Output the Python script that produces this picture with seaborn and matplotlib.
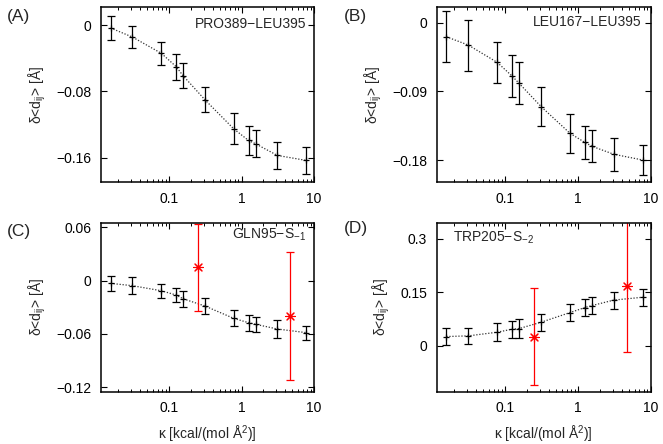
import numpy as np
import pandas as pd
import matplotlib
matplotlib.use('Agg')
import matplotlib.pyplot as plt
import matplotlib.ticker as mticker
import seaborn as sns

# kappa values (same for all panels)
kappa = [0.0156, 0.03125, 0.078, 0.125, 0.156, 0.3125, 0.78, 1.25, 1.5625, 3.125, 7.8]

# (A) PRO389-LEU395
a_val = [-0.0036, -0.0145, -0.034, -0.050, -0.061, -0.090, -0.125, -0.139, -0.143, -0.157, -0.163]
a_err = [0.0149, 0.013, 0.0139, 0.0157, 0.015, 0.015, 0.0187, 0.0173, 0.0165, 0.0165, 0.0165]

# (B) LEU167-LEU395
b_val = [-0.0184, -0.0293, -0.052, -0.070, -0.0795, -0.110, -0.145, -0.157, -0.162, -0.1725, -0.180]
b_err = [0.0334, 0.0334, 0.027, 0.028, 0.0275, 0.0253, 0.0253, 0.0216, 0.021, 0.022, 0.020]

# (C) GLN95-S_-1
c_val = [-0.003, -0.0056, -0.0113, -0.0161, -0.0203, -0.0285, -0.0424, -0.0473, -0.0491, -0.0544, -0.0585]
c_err = [0.0086, 0.0096, 0.0077, 0.0083, 0.0088, 0.0092, 0.009, 0.009, 0.0086, 0.0098, 0.0079]
c_red_x = [0.25, 4.7]
c_red_val = [0.015, -0.0398]
c_red_err = [0.0488, 0.072]

# (D) TRP205-S_-2
d_val = [0.0253, 0.0272, 0.0375, 0.046, 0.0478, 0.0656, 0.0928, 0.107, 0.1125, 0.128, 0.136]
d_err = [0.0248, 0.0234, 0.0253, 0.0234, 0.0258, 0.0239, 0.0234, 0.023, 0.0248, 0.0239, 0.0244]
d_red_x = [0.25, 4.7]
d_red_val = [0.025, 0.167]
d_red_err = [0.137, 0.184]

x_ticks = [0.1, 1, 10]
x_ticklabels = ['0.1', '1', '10']

sns.set_theme(style='ticks')
plt.rcParams['font.family'] = ['Liberation Sans', 'DejaVu Sans']
plt.rcParams['mathtext.fontset'] = 'custom'
plt.rcParams['mathtext.rm'] = 'Liberation Sans'
plt.rcParams['mathtext.it'] = 'Liberation Sans'
plt.rcParams['axes.unicode_minus'] = True

W, H = 663, 444
fig = plt.figure(figsize=(W / 100, H / 100), dpi=100)


def panel(rect, vals, errs, ylim, yticks, yticklabels, name, name_pos, letter, letter_pos,
          red_x=None, red_val=None, red_err=None, xlabel=False, name_ha='right'):
    l, t, r, b = rect
    ax = fig.add_axes([l / W, 1 - b / H, (r - l) / W, (b - t) / H])
    df = pd.DataFrame({'kappa': kappa, 'val': vals})
    sns.lineplot(data=df, x='kappa', y='val', ax=ax, color='#333333',
                 linestyle=(0, (1, 1.4)), linewidth=0.9, marker='+', markersize=5,
                 markeredgecolor='black', markeredgewidth=0.9)
    ax.errorbar(kappa, vals, yerr=errs, fmt='none', ecolor='black',
                elinewidth=0.9, capsize=2.6, capthick=0.9)
    if red_x is not None:
        ax.errorbar(red_x, red_val, yerr=red_err, fmt='none', ecolor='red',
                    elinewidth=0.9, capsize=2.6, capthick=0.9)
        sns.scatterplot(x=red_x, y=red_val, ax=ax, marker=(8, 2, 0), s=50,
                        color='red', edgecolor='red', linewidth=0.8)
    ax.set_xscale('log')
    ax.set_xlim(0.0115, 10)
    ax.set_ylim(*ylim)
    ax.xaxis.set_major_locator(mticker.FixedLocator(x_ticks))
    ax.set_xticklabels(x_ticklabels)
    ax.xaxis.set_minor_locator(mticker.LogLocator(base=10, subs=np.arange(2, 10), numticks=20))
    ax.xaxis.set_minor_formatter(mticker.NullFormatter())
    ax.set_yticks(yticks)
    ax.set_yticklabels(yticklabels)
    ax.tick_params(which='both', direction='in', top=True, right=True, labelsize=10,
                   color='black', labelcolor='black', pad=7)
    ax.tick_params(which='major', length=4.5, width=0.8)
    ax.tick_params(which='minor', length=2.3, width=0.7)
    for s in ax.spines.values():
        s.set_linewidth(1.1)
        s.set_color('black')
    ax.set_ylabel(r'δ<d$_{\mathrm{ij}}$> [Å]', fontsize=10, labelpad=6)
    if xlabel:
        ax.set_xlabel(r'κ [kcal/(mol Å$^{2}$)]', fontsize=10, labelpad=6)
    else:
        ax.set_xlabel('')
    ax.text(name_pos[0] / W, 1 - name_pos[1] / H, name, transform=fig.transFigure,
            ha=name_ha, va='center', fontsize=10)
    fig.text(letter_pos[0] / W, 1 - letter_pos[1] / H, letter, ha='left', va='center',
             fontsize=12.5)
    return ax


panel((101, 7, 314, 182), a_val, a_err, (-0.189, 0.0217), [0, -0.08, -0.16],
      ['0', '−0.08', '−0.16'], 'PRO389−LEU395', (306, 24), '(A)', (7, 17))
panel((436.7, 7, 650.7, 182), b_val, b_err, (-0.2088, 0.0206), [0, -0.09, -0.18],
      ['0', '−0.09', '−0.18'], 'LEU167−LEU395', (642, 22), '(B)', (344, 17))
panel((101, 223, 314, 391.7), c_val, c_err, (-0.125, 0.065), [0.06, 0, -0.06, -0.12],
      ['0.06', '0', '−0.06', '−0.12'], r'GLN95−S$_{-1}$', (306, 235), '(C)', (7, 231),
      c_red_x, c_red_val, c_red_err, xlabel=True)
panel((436.7, 223, 650.7, 391.7), d_val, d_err, (-0.13, 0.345), [0.3, 0.15, 0],
      ['0.3', '0.15', '0'], r'TRP205−S$_{-2}$', (453, 238), '(D)', (344, 229),
      d_red_x, d_red_val, d_red_err, xlabel=True, name_ha='left')

fig.savefig('out.png', dpi=100)
